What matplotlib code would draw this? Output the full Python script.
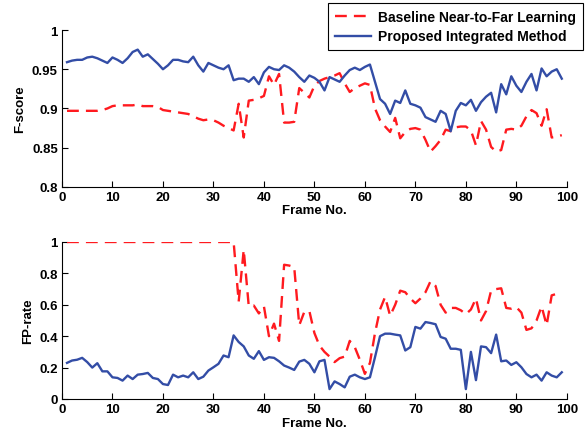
import numpy as np
import matplotlib
matplotlib.use('Agg')
import matplotlib.pyplot as plt

plt.rcParams['font.family'] = ['Liberation Sans', 'DejaVu Sans']
plt.rcParams['font.weight'] = 'bold'

frames = np.arange(1, 100)

# F-score (panel superior)
fs_base = [0.897, 0.897, 0.897, 0.897, 0.897, 0.897, 0.897, 0.898, 0.900, 0.903,
           0.904, 0.904, 0.904, 0.904, 0.905, 0.903, 0.903, 0.903, 0.902, 0.898,
           0.897, 0.896, 0.895, 0.894, 0.893, 0.890, 0.887, 0.885, 0.886, 0.885,
           0.882, 0.878, 0.875, 0.872, 0.906, 0.863, 0.910, 0.911, 0.913, 0.916,
           0.941, 0.930, 0.944, 0.882, 0.882, 0.883, 0.926, 0.920, 0.914, 0.929,
           0.935, 0.938, 0.940, 0.942, 0.945, 0.932, 0.921, 0.926, 0.929, 0.932,
           0.930, 0.900, 0.885, 0.877, 0.870, 0.888, 0.862, 0.870, 0.874, 0.875,
           0.873, 0.860, 0.845, 0.852, 0.860, 0.873, 0.871, 0.876, 0.877, 0.877,
           0.872, 0.853, 0.884, 0.873, 0.851, 0.845, 0.847, 0.873, 0.874, 0.873,
           0.878, 0.890, 0.898, 0.894, 0.878, 0.899, 0.863, 0.864, 0.866]
fs_prop = [0.959, 0.961, 0.962, 0.962, 0.965, 0.966, 0.964, 0.961, 0.958, 0.965,
           0.962, 0.958, 0.964, 0.972, 0.975, 0.966, 0.969, 0.963, 0.957, 0.950,
           0.955, 0.962, 0.962, 0.960, 0.959, 0.966, 0.955, 0.947, 0.958, 0.955,
           0.952, 0.950, 0.955, 0.936, 0.938, 0.938, 0.934, 0.940, 0.931, 0.946,
           0.953, 0.950, 0.949, 0.955, 0.952, 0.947, 0.940, 0.934, 0.942, 0.939,
           0.934, 0.923, 0.940, 0.937, 0.934, 0.942, 0.949, 0.952, 0.949, 0.953,
           0.956, 0.934, 0.912, 0.906, 0.893, 0.910, 0.907, 0.923, 0.906, 0.904,
           0.901, 0.889, 0.886, 0.883, 0.897, 0.893, 0.871, 0.897, 0.907, 0.904,
           0.911, 0.897, 0.908, 0.915, 0.920, 0.895, 0.931, 0.918, 0.941, 0.929,
           0.921, 0.934, 0.944, 0.923, 0.951, 0.941, 0.947, 0.950, 0.938]

# FP-rate (panel inferior)
fp_base = [1.0] * 34 + [
           0.62, 0.95, 0.59, 0.595, 0.545, 0.59,
           0.40, 0.48, 0.37, 0.855, 0.85, 0.84, 0.47, 0.555, 0.56, 0.42,
           0.34, 0.30, 0.27, 0.235, 0.26, 0.27, 0.37, 0.33, 0.25, 0.16,
           0.23, 0.42, 0.57, 0.65, 0.53, 0.60, 0.69, 0.68, 0.64, 0.61,
           0.64, 0.68, 0.75, 0.72, 0.60, 0.55, 0.58, 0.58, 0.565, 0.54,
           0.57, 0.64, 0.50, 0.56, 0.69, 0.70, 0.705, 0.58, 0.575, 0.585,
           0.55, 0.44, 0.45, 0.50, 0.59, 0.47, 0.66, 0.67, 0.67]
fp_prop = [0.230, 0.245, 0.250, 0.262, 0.235, 0.200, 0.228, 0.176, 0.176, 0.138,
           0.134, 0.117, 0.149, 0.127, 0.155, 0.159, 0.166, 0.134, 0.127, 0.095,
           0.089, 0.155, 0.138, 0.149, 0.138, 0.170, 0.127, 0.142, 0.181, 0.202,
           0.224, 0.277, 0.266, 0.405, 0.363, 0.335, 0.277, 0.256, 0.305, 0.249,
           0.266, 0.262, 0.240, 0.213, 0.200, 0.185, 0.238, 0.249, 0.224, 0.170,
           0.240, 0.249, 0.063, 0.112, 0.095, 0.074, 0.142, 0.155, 0.138, 0.127,
           0.138, 0.266, 0.400, 0.416, 0.416, 0.410, 0.405, 0.309, 0.330, 0.459,
           0.448, 0.490, 0.484, 0.476, 0.395, 0.384, 0.320, 0.320, 0.313, 0.063,
           0.300, 0.120, 0.335, 0.330, 0.292, 0.410, 0.240, 0.245, 0.217, 0.234,
           0.202, 0.159, 0.138, 0.155, 0.117, 0.170, 0.149, 0.138, 0.170]

c_red = [1.0, 0.1, 0.12]
c_blue = [0.2, 0.3, 0.65]

fig = plt.figure(figsize=(5.88, 4.35), dpi=100)
ax1 = fig.add_axes([0.1054, 0.568, 0.8586, 0.3607])
ax2 = fig.add_axes([0.1054, 0.0805, 0.8586, 0.3609])

l1, = ax1.plot(frames, fs_base, '--', color=c_red, linewidth=1.7, dashes=(5, 3),
               label='Baseline Near-to-Far Learning')
l2, = ax1.plot(frames, fs_prop, '-', color=c_blue, linewidth=1.7,
               label='Proposed Integrated Method')
ax2.plot(frames, fp_base, '--', color=c_red, linewidth=1.7, dashes=(5, 3))
ax2.plot(frames, fp_prop, '-', color=c_blue, linewidth=1.7)

ax1.set_xlim(0, 100); ax1.set_ylim(0.8, 1)
ax1.set_yticks([0.8, 0.85, 0.9, 0.95, 1])
ax1.set_yticklabels(['0.8', '0.85', '0.9', '0.95', '1'])
ax1.set_ylabel('F-score', fontsize=9.5, fontweight='bold')

ax2.set_xlim(0, 100); ax2.set_ylim(0, 1)
ax2.set_yticks(np.arange(0, 1.01, 0.2))
ax2.set_yticklabels(['0', '0.2', '0.4', '0.6', '0.8', '1'])
ax2.set_ylabel('FP-rate', fontsize=9.5, fontweight='bold')

for ax in (ax1, ax2):
    ax.set_xticks(np.arange(0, 101, 10))
    ax.set_xlabel('Frame No.', fontsize=9.5, fontweight='bold', labelpad=1)
    ax.spines['top'].set_visible(False)
    ax.spines['right'].set_visible(False)
    ax.tick_params(direction='in', length=4, labelsize=9.5, pad=3)
    for lab in ax.get_xticklabels() + ax.get_yticklabels():
        lab.set_fontweight('bold')

leg = fig.legend(handles=[l1, l2], loc='upper right',
                 bbox_to_anchor=(583 / 588, 1 - 4 / 435), borderaxespad=0,
                 fancybox=False, edgecolor='black', framealpha=1,
                 prop={'size': 10, 'weight': 'bold'},
                 handlelength=2.6, handletextpad=0.5,
                 borderpad=0.5, labelspacing=0.4)
leg.get_frame().set_linewidth(0.8)

fig.savefig('out.png', dpi=100)
